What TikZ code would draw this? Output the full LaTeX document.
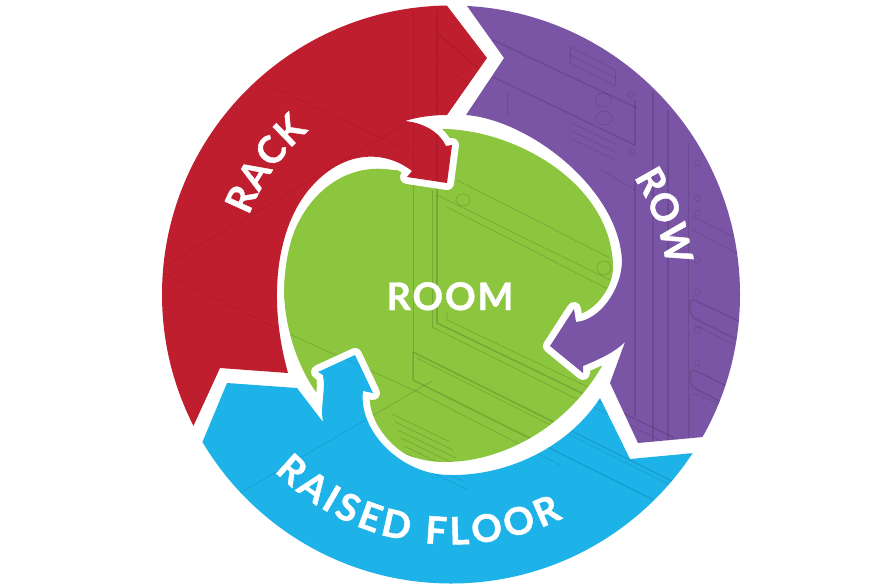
\documentclass[tikz,border=0pt]{standalone}
\usepackage{fontspec}
\usetikzlibrary{decorations.text}
\newfontfamily\capsfont{Lato}[BoldFeatures={FakeBold=1.1}]
\newfontfamily\roomfont{Lato}[BoldFeatures={FakeBold=1.1,LetterSpace=5}]
\newcommand{\lab}{\capsfont\bfseries\fontsize{38}{40}\selectfont}
\definecolor{cRed}{HTML}{BE1E2D}
\definecolor{cPurple}{HTML}{7A55A5}
\definecolor{cBlue}{HTML}{1DB2E8}
\definecolor{cGreen}{HTML}{8CC63F}
\newcommand{\greenpath}{(440,129) .. controls (510,128) and (610,180) .. (613,265) .. controls (614,285) and (600,305) .. (583,313)
 -- (560,340) -- (602,366) .. controls (565,430) and (500,462) .. (445,462) .. controls (410,462) and (372,445) .. (365,405)
 -- (340,375) -- (316,392) .. controls (293,360) and (280,310) .. (285,270) .. controls (290,210) and (335,160) .. (393,170)
 -- (430,170) -- cycle}
\newcommand{\redpath}{(425,-23) -- (487,58) -- (447,115) .. controls (432,115) and (418,117) .. (405,121) .. controls (425,123) and (440,133) .. (446,146) -- (452,145) -- (447,183) -- (407,177) -- (412,171)
 .. controls (385,150) and (345,150) .. (313,185) .. controls (280,220) and (265,290) .. (288,373)
 -- (220,368) -- (170,477) -- (100,477) -- (100,-23) -- cycle}
\newcommand{\purplepath}{(445,-25) -- (504,58) -- (466,115)
 .. controls (530,120) and (620,190) .. (622,262) .. controls (621,290) and (600,320) .. (576,322)
 -- (574,309) -- (550,346) -- (583,373) -- (583,366) .. controls (600,359) and (615,352) .. (625,342) -- (610,383) -- (638,443) -- (703,437) -- (780,430) -- (780,-25) -- cycle}
\newcommand{\bluepath}{(175,508) -- (227,383) -- (297,388) -- (323,422) .. controls (320,405) and (326,390) .. (323,375) -- (318,372) -- (355,355) -- (373,393) -- (363,391)
 .. controls (358,430) and (400,475) .. (450,475) .. controls (510,476) and (570,445) .. (600,398)
 -- (630,459) -- (694,453) -- (770,447) -- (770,600) -- (175,600) -- cycle}
\newcommand{\artlines}{%
 % diagonal frame lines
 \draw[thinart] (262,82) -- (413,153);
 \draw[thinart] (163,267) -- (407,123);
 \draw[thinart] (163,273) -- (287,333) -- (420,393) -- (560,465);
 \draw[thinart] (240,493) -- (360,423) -- (432,381);
 % verticals
 \draw[thinart] (413,10) -- (413,352);
 \draw[thinart] (432,190) -- (432,327);
 \draw[thickart] (437,10) -- (437,323);
 % lower drawers
 \draw[thickart] (437,323) -- (720,460);
 \draw[thinart] (432,327) -- (720,470);
 \draw[thinart] (447,312) -- (447,320) -- (590,388);
 \draw[thickart] (413,352) -- (413,380) -- (720,533);
 \draw[thickart] (413,352) -- (720,505);
 \draw[thinart] (417,358) -- (720,510);
 % upper rails
 \draw[thinart] (457,180) -- (610,258);
 \draw[thinart] (437,195) -- (610,280);
 \draw[thinart] (447,207) -- (610,290);
 \draw[thinart] (463,200) ellipse[x radius=7,y radius=6];
 \draw[thinart] (604,268) ellipse[x radius=7,y radius=7];
 % floor grid
 \foreach \i in {0,...,6} {\draw[thinart] ({392+3*\i},{414+8*\i}) -- ({450+3*\i},{442+8*\i});}
 % top of the rack, red part
 \draw[thickart] (437,33) -- (478,68);
 \draw[thinart] (437,60) -- (470,85);
 \draw[thinart] (437,100) -- (450,112);
 % purple rack
 \draw[thickart] (493,40) -- (637,108);
 \draw[thickart] (493,77) -- (635,145);
 \draw[thinart] (507,93) -- (507,117);
 \foreach \d in {0,8,16} {\draw[thinart] (570,47+\d) -- (615,70+\d);}
 \draw[thinart] (615,70) -- (615,85);
 \foreach \d in {0,8,16} {\draw[thinart] (570,122+\d) -- (617,145+\d);}
 \draw[thinart] (570,47) -- (570,63);
 \draw[thinart] (603,100) ellipse[x radius=8,y radius=7];
 \draw[thinart] (604,118) ellipse[x radius=8,y radius=7];
 \draw[thickart] (635,100) -- (635,145);
 \draw[thickart] (635,180) -- (635,417);
 \draw[thinart] (597,167) -- (635,190);
 \draw[thickart] (653,92) -- (653,450);
 \draw[thickart] (668,110) -- (668,450);
 \draw[thinart] (688,143) -- (688,450);
 \draw[thinart] (693,217) -- (740,240);
 \draw[thinart] (693,230) -- (740,255);
 \draw[thickart,rounded corners=6] (745,324) -- (690,298) -- (690,316) -- (745,344);
 \draw[thickart,rounded corners=6] (745,395) -- (690,368) -- (690,386) -- (745,414);
 \draw[thinart,rounded corners=6] (745,350) -- (695,325);
 \draw[thinart,rounded corners=6] (730,408) -- (690,392) -- (690,430);
 \foreach \p in {(697,163),(697,198),(697,213),(697,260),(697,292),(697,330),(697,363),(631,95),(632,152)} {\draw[thinart] \p circle[radius=3];}
}
\tikzset{thinart/.style={line width=.7pt},thickart/.style={line width=1.5pt}}
\begin{document}
\begin{tikzpicture}[x=1pt,y=-1pt]
\useasboundingbox (0,0) rectangle (874,586);
\fill[white] (0,0) rectangle (874,586);
\begin{scope}
 \clip (451,294.5) circle[radius=289pt];
 % room
 \fill[cGreen] \greenpath;
 \begin{scope}[opacity=.15]
  \clip \greenpath;
  \artlines
 \end{scope}
 % white outlines
 \draw[white,line width=14pt,line join=round] \redpath;
 \draw[white,line width=14pt,line join=round] \purplepath;
 \draw[white,line width=14pt,line join=round] \bluepath;
 % bands
 \fill[cRed] \redpath;
 \begin{scope}[opacity=.07]
  \clip \redpath;
  \artlines
 \end{scope}
 \fill[cPurple] \purplepath;
 \begin{scope}[opacity=.12]
  \clip \purplepath;
  \artlines
 \end{scope}
 \fill[cBlue] \bluepath;
 \begin{scope}[opacity=.1]
  \clip \bluepath;
  \artlines
 \end{scope}
\end{scope}
% labels
\node[text=white,inner sep=0pt,anchor=base] (room) at (450,310) {\roomfont\bfseries\fontsize{38}{40}\selectfont ROOM};
\path[decorate,decoration={text along path,text color=white,text align={fit to path},text={|\lab|RACK}}]
 plot[domain=201.3:229,samples=40] ({451+217*cos(\x)},{294.5+217*sin(\x)});
\path[decorate,decoration={text along path,text color=white,text align={fit to path},text={|\lab|ROW}}]
 plot[domain=-32.7:-11,samples=40] ({451+217*cos(\x)},{294.5+217*sin(\x)});
\path[decorate,decoration={text along path,text color=white,text align={fit to path},text={|\lab|RAISED FLOOR}}]
 plot[domain=135:63.4,samples=80] ({451+250*cos(\x)},{294.5+250*sin(\x)});
\end{tikzpicture}
\end{document}
